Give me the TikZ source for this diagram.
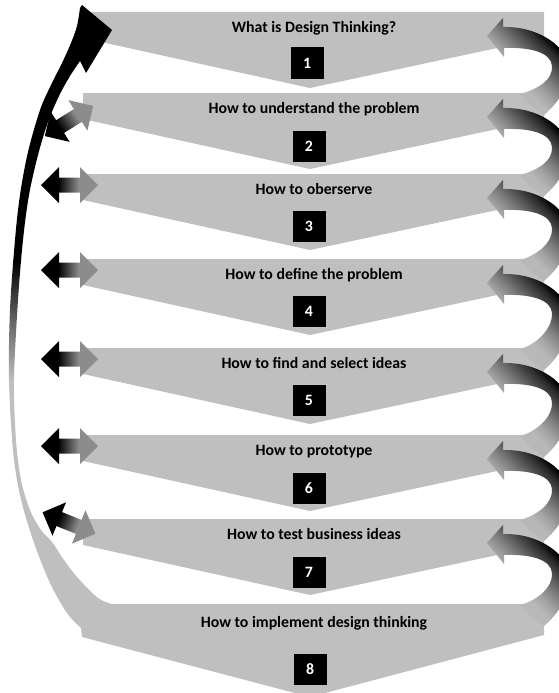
\documentclass[tikz,border=0pt]{standalone}
\usepackage{fontspec}
\setmainfont{Carlito}

\definecolor{bandgray}{RGB}{191,191,191}
\definecolor{dblgray}{RGB}{140,140,140}
\definecolor{midgray}{RGB}{100,100,100}
\definecolor{arcA}{RGB}{184,184,184}
\definecolor{arcB}{RGB}{164,164,164}
\definecolor{arcC}{RGB}{126,126,126}
\definecolor{arcD}{RGB}{85,85,85}
\definecolor{arcE}{RGB}{42,42,42}

% black-to-gray fill of the small two-way arrows
\pgfdeclarehorizontalshading{dblshade}{100bp}{color(0bp)=(black); color(40bp)=(black); color(58bp)=(dblgray); color(100bp)=(dblgray)}
% diagonal fill of the looping arrows on the right
\pgfdeclarehorizontalshading{arcshade}{100bp}{color(0bp)=(arcA); color(43bp)=(arcA); color(45.8bp)=(arcB); color(49.2bp)=(arcC); color(52.2bp)=(arcD); color(55.3bp)=(arcE); color(57.5bp)=(black); color(100bp)=(black)}

% looping arrow from one step back to the step above: #1 = head height, #2 = top of the lower step
\newcommand\backarc[2]{%
  \begin{scope}
    \clip (503,#1-9) .. controls (545,#1-10) and (574,#1+18) .. (571,#1+40)
      .. controls (568,#2-5) and (556,#2+12) .. (544,#2+22) -- (530,#2+12) -- (520,#2+1)
      .. controls (538,#2-4) and (553,#1+44) .. (552,#1+30)
      .. controls (551,#1+17) and (532,#1+11) .. (504,#1+12)
      -- (504,#1+21) -- (487,#1) -- (503,#1-18) -- cycle;
    \begin{scope}[transform canvas={shift={(533,#1+25)},rotate=45}]
      \shade[shading=arcshade] (-90,-90) rectangle (90,90);
    \end{scope}
  \end{scope}}

% two-headed arrow: #1,#2 = centre, #3 = angle
\newcommand\twoway[3]{%
  \begin{scope}[transform canvas={shift={(#1,#2)},rotate=#3}]
    \shade[shading=dblshade] (-28.5,0) -- (-10.5,-18) -- (-10.5,-7.5) -- (10.5,-7.5)
      -- (10.5,-18) -- (28.5,0) -- (10.5,18) -- (10.5,7.5) -- (-10.5,7.5) -- (-10.5,18) -- cycle;
  \end{scope}}

\begin{document}
\begin{tikzpicture}[x=1pt,y=-1pt,
  steptext/.style={font=\fontsize{15.8pt}{19pt}\selectfont\bfseries, anchor=base, inner sep=0pt},
  numbox/.style={fill=black, text=white, minimum width=33pt, minimum height=31pt,
    inner sep=0pt, font=\fontsize{15.8pt}{19pt}\selectfont\bfseries}]
\useasboundingbox (0,0) rectangle (559,693);
\begin{scope}
\clip (0,0) rectangle (559,693);

% step banners
\foreach \T in {12,93,174,259,348,435,519} {
  \fill[bandgray] (83,\T) -- (544,\T) -- (544,\T+26) -- (310,\T+76) -- (83,\T+26) -- cycle;
}
\fill[bandgray] (82,604) -- (544,604) -- (544,635) -- (310,697) -- (82,637) -- cycle;

% loops on the right
\backarc{36}{93}
\backarc{117}{174}
\backarc{198}{259}
\backarc{283}{348}
\backarc{372}{435}
\backarc{459}{519}
\backarc{543}{604}

% two-way arrows on the left
\twoway{69}{121}{32}
\twoway{69.5}{185}{0}
\twoway{69.5}{270}{0}
\twoway{69.5}{359}{0}
\twoway{69.5}{446}{0}
\twoway{69}{523}{-22}

% long return arrow from the last step to the first: black on top, fading to gray
\begin{scope}
  \clip (82,637) -- plot[smooth, tension=0.55] coordinates {
    (81,628) (67,613) (50,583) (33,540) (20,495) (13,450) (9,380) (10,310)
    (15,240) (20,195) (28,152) (40,110) (51,85) (62,63) (71,43) (77,26) (80,8)}
    -- (82,5) -- (112,30) -- (86,73) -- plot[smooth, tension=0.55] coordinates {
    (80,61) (70,76) (59,96) (48,122) (38,155) (29,195) (23,240) (18,300) (14,380)
    (16,440) (21,480) (30,510) (41,530) (52,542) (64,560) (77,577) (98,598) (112,604)}
    -- cycle;
  \fill[black] (0,0) rectangle (120,262);
  \shade[top color=black, bottom color=bandgray, middle color=midgray] (0,260) rectangle (120,382);
  \fill[bandgray] (0,380) rectangle (120,700);
\end{scope}

% titles
\node[steptext] (t1) at (314,32.5) {What is Design Thinking?};
\node[steptext] (t2) at (314,113.5) {How to understand the problem};
\node[steptext] (t3) at (314,194.5) {How to oberserve};
\node[steptext] (t4) at (314,279.5) {How to define the problem};
\node[steptext] (t5) at (314,368.5) {How to find and select ideas};
\node[steptext] (t6) at (314,455.5) {How to prototype};
\node[steptext] (t7) at (314,539.5) {How to test business ideas};
\node[steptext] (t8) at (314,627) {How to implement design thinking};

% step numbers
\node[numbox] (n1) at (307,63) {1};
\node[numbox] (n2) at (309,146) {2};
\node[numbox] (n3) at (309,226) {3};
\node[numbox] (n4) at (309,311) {4};
\node[numbox] (n5) at (309,400) {5};
\node[numbox] (n6) at (309,488) {6};
\node[numbox] (n7) at (309,572) {7};
\node[numbox] (n8) at (310,669) {8};
\end{scope}
\end{tikzpicture}
\end{document}
